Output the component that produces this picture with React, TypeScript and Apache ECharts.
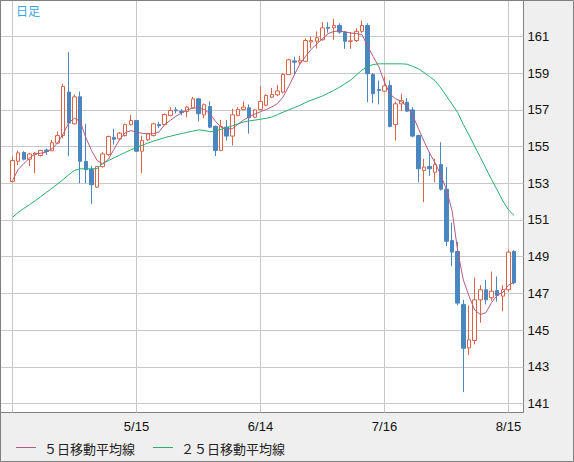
import React, { useEffect, useRef } from "react";
import * as echarts from "echarts";

const dates = ['4/15','4/16','4/17','4/18','4/19','4/22','4/23','4/24','4/25','4/26','4/29','4/30',
'5/1','5/2','5/3','5/6','5/7','5/8','5/9','5/10','5/13','5/14','5/15','5/16','5/17','5/20','5/21','5/22','5/23','5/24','5/27','5/28','5/29','5/30','5/31',
'6/3','6/4','6/5','6/6','6/7','6/10','6/11','6/12','6/13','6/14','6/17','6/18','6/19','6/20','6/21','6/24','6/25','6/26','6/27','6/28',
'7/1','7/2','7/3','7/4','7/5','7/8','7/9','7/10','7/11','7/12','7/15','7/16','7/17','7/18','7/19','7/22','7/23','7/24','7/25','7/26','7/29','7/30','7/31',
'8/1','8/2','8/5','8/6','8/7','8/8','8/9','8/12','8/13','8/14','8/15','8/16'];

const opens = [153.10,154.20,154.68,154.31,154.57,154.51,154.81,154.77,155.19,155.60,
157.97,156.24,157.71,154.19,153.75,152.79,153.91,154.57,155.50,155.42,
155.60,156.19,156.42,154.75,155.37,155.60,156.20,156.20,156.70,157.00,
156.93,156.91,157.11,157.60,156.73,157.18,156.10,154.79,156.06,155.57,
156.69,157.02,157.11,156.60,157.02,157.25,157.69,157.82,157.97,158.93,
159.67,159.60,159.65,160.70,160.74,160.82,161.50,161.47,161.60,161.24,
160.74,160.78,161.28,161.60,158.93,158.11,158.02,158.33,156.20,157.33,
157.42,157.00,155.60,153.70,153.91,153.60,154.02,152.68,149.88,149.28,
146.40,144.03,144.43,146.65,147.20,146.76,147.16,146.85,147.20,149.28];

const closes = [154.24,154.66,154.31,154.60,154.64,154.79,154.73,155.21,155.60,158.28,
156.28,157.71,154.20,153.74,152.92,153.91,154.60,155.55,155.40,155.73,
156.20,156.42,154.75,155.33,155.70,156.24,156.13,156.75,156.97,156.95,
156.86,157.15,157.60,156.79,157.28,156.06,154.79,156.10,155.57,156.73,
157.02,157.15,156.57,157.00,157.46,157.79,157.84,158.03,158.93,159.73,
159.60,159.70,160.78,160.78,160.93,161.47,161.45,161.60,161.24,160.74,
160.76,161.28,161.60,158.97,157.88,158.06,158.31,156.10,157.33,157.50,
156.93,155.57,153.79,153.88,153.79,154.02,152.68,149.84,149.25,146.47,
144.01,144.47,146.65,147.20,146.65,147.12,146.89,147.20,149.25,147.58];

const lows = [153.05,154.00,154.25,153.93,153.55,154.45,154.55,154.76,155.15,155.45,
154.48,156.20,153.00,153.00,151.88,152.75,153.85,154.50,155.11,155.35,
155.55,156.15,154.70,153.55,155.30,155.55,156.00,156.15,156.65,156.80,
156.70,156.60,157.05,156.38,156.55,156.00,154.48,154.75,155.33,155.06,
156.65,156.98,155.70,156.55,156.98,157.20,157.65,157.75,157.90,158.90,
158.93,159.50,159.60,160.35,160.35,160.78,161.20,160.82,161.15,160.33,
160.33,160.70,161.20,157.42,157.37,157.30,158.00,156.05,155.33,156.93,
156.90,155.50,153.06,151.97,153.40,153.05,152.60,149.57,148.48,146.35,
141.62,143.65,144.22,145.40,146.40,146.60,146.55,146.03,147.10,147.50];

const highs = [154.47,154.79,154.75,154.66,154.70,154.82,154.90,155.37,155.82,158.42,
160.14,157.84,158.00,156.24,153.95,153.95,154.70,155.60,155.97,155.80,
156.25,156.73,156.45,155.60,155.75,156.30,156.35,156.80,157.15,157.15,
157.05,157.20,157.70,157.65,157.35,157.47,156.15,156.46,156.45,157.06,
157.15,157.45,157.30,157.05,158.28,157.85,158.20,158.35,159.00,159.78,
159.90,159.95,160.90,161.00,161.27,161.78,161.78,161.96,161.72,161.30,
161.24,161.45,161.87,161.72,159.00,158.60,158.82,158.60,157.45,157.88,
157.65,157.15,155.65,154.33,154.70,154.35,155.24,153.88,150.85,149.80,
146.65,146.34,147.85,147.45,147.74,148.19,147.92,147.45,149.38,149.35];

const ma5 = [153.15,153.75,154.07,154.37,154.60,154.64,154.70,154.88,155.20,155.70,
156.30,156.55,156.38,155.50,154.80,154.25,154.05,154.30,154.85,155.38,
155.75,155.87,155.79,155.72,155.70,155.70,155.80,156.20,156.43,156.65,
156.83,157.00,157.10,157.10,157.02,156.80,156.38,156.05,155.97,155.97,
156.22,156.45,156.62,156.77,156.90,157.02,157.16,157.34,157.70,158.28,
158.90,159.50,159.91,160.30,160.60,160.88,161.15,161.27,161.30,161.25,
161.19,161.16,161.10,160.50,159.90,159.35,158.50,157.85,157.60,157.45,
157.20,156.70,156.00,155.30,154.65,154.10,153.45,152.65,151.50,149.30,
147.72,146.85,146.10,145.85,145.95,146.50,146.90,147.05,147.45,147.60];

const ma25 = [151.15,151.41,151.63,151.83,152.04,152.27,152.50,152.73,152.96,153.21,
153.47,153.70,153.79,153.79,153.79,153.80,154.09,154.23,154.39,154.53,
154.68,154.82,154.95,155.07,155.19,155.30,155.39,155.49,155.56,155.64,
155.71,155.78,155.84,155.91,155.88,155.81,155.85,155.94,156.03,156.13,
156.24,156.34,156.40,156.44,156.49,156.54,156.61,156.74,156.87,157.00,
157.12,157.25,157.40,157.53,157.64,157.76,157.91,158.06,158.23,158.43,
158.62,158.90,159.17,159.37,159.47,159.51,159.51,159.51,159.51,159.51,
159.49,159.37,159.24,159.04,158.81,158.58,158.20,157.75,157.31,156.85,
156.20,155.63,155.02,154.42,153.80,153.21,152.63,152.04,151.55,151.25];

const yTicks = [141, 143, 145, 147, 149, 151, 153, 155, 157, 159, 161];
const labelEvery = 22;
const ma5Name = "５日移動平均線";
const ma25Name = "２５日移動平均線";
const ma5Color = "#b45a82";
const ma25Color = "#2aae6e";

export default function App() {
  const ref = useRef<HTMLDivElement>(null);
  useEffect(() => {
    document.body.style.margin = "0";
    if (!ref.current) return;
    const chart = echarts.init(ref.current, null, { renderer: "svg" });
    const cats = [...dates, ""];
    const candles = dates.map((_, i) => [opens[i], closes[i], lows[i], highs[i]]);
    const yMin = 140.51;
    const yMax = 162.96;
    const numFont = "Liberation Sans, Arial, sans-serif";
    const legendFont = { fontSize: 13, fontFamily: "Noto Sans CJK JP", fill: "#222", verticalAlign: "middle" };
    chart.setOption({
      animation: false,
      backgroundColor: "#efefef",
      grid: [
        { left: 0.5, top: 0.5, width: 523, height: 412, show: true, backgroundColor: "#ffffff", borderColor: "#808080", borderWidth: 1, containLabel: false },
        { left: 12.5, top: 0.5, width: 507.24, height: 412, show: false, containLabel: false },
      ],
      xAxis: [
        { gridIndex: 0, type: "value", min: 0, max: 1, show: false },
        {
          gridIndex: 1, type: "category", data: cats, boundaryGap: false,
          axisLine: { show: false }, axisTick: { show: false },
          splitLine: { show: true, interval: (i: number) => i % labelEvery === 0 && i < dates.length, lineStyle: { color: "#c8c8c8", width: 1 } },
          axisLabel: { interval: (i: number) => i % labelEvery === 0 && i > 0 && i < dates.length, color: "#111", fontSize: 13, fontFamily: numFont, margin: 7 },
        },
      ],
      yAxis: [
        {
          gridIndex: 0, type: "value", position: "right", min: yMin, max: yMax,
          axisLine: { show: false },
          axisTick: { show: false, customValues: yTicks },
          axisLabel: { customValues: yTicks, color: "#111", fontSize: 13, fontFamily: numFont, margin: 4 },
          splitLine: { show: true, lineStyle: { color: "#c8c8c8", width: 1 } },
        },
        { gridIndex: 1, type: "value", min: yMin, max: yMax, show: false, splitLine: { show: false } },
      ],
      graphic: [
        { type: "text", left: 16, top: 4, style: { text: "日足", fill: "#3aa6e2", fontSize: 12, fontFamily: "Noto Sans CJK JP" } },
        { type: "line", shape: { x1: 16, y1: 447.5, x2: 36, y2: 447.5 }, style: { stroke: ma5Color, lineWidth: 1 }, silent: true },
        { type: "text", x: 44, y: 448, style: { text: ma5Name, ...legendFont } },
        { type: "line", shape: { x1: 153, y1: 447.5, x2: 173, y2: 447.5 }, style: { stroke: ma25Color, lineWidth: 1 }, silent: true },
        { type: "text", x: 181, y: 448, style: { text: ma25Name, ...legendFont } },
        { type: "rect", shape: { x: 0.5, y: 0.5, width: 573, height: 461 }, style: { fill: "none", stroke: "#808080", lineWidth: 1 }, silent: true, z: 100 },
      ],
      series: [
        {
          type: "candlestick", xAxisIndex: 1, yAxisIndex: 1, data: candles, barWidth: 4,
          itemStyle: { color: "#ffffff", color0: "#4a86bf", borderColor: "#dc6445", borderColor0: "#4a86bf", borderWidth: 1 },
        },
        { name: ma5Name, type: "line", xAxisIndex: 1, yAxisIndex: 1, data: ma5, symbol: "none", lineStyle: { color: ma5Color, width: 1 }, itemStyle: { color: ma5Color } },
        { name: ma25Name, type: "line", xAxisIndex: 1, yAxisIndex: 1, data: ma25, symbol: "none", lineStyle: { color: ma25Color, width: 1 }, itemStyle: { color: ma25Color } },
      ],
    });
    return () => chart.dispose();
  }, []);
  return <div ref={ref} style={{ width: 574, height: 462 }} />;
}
